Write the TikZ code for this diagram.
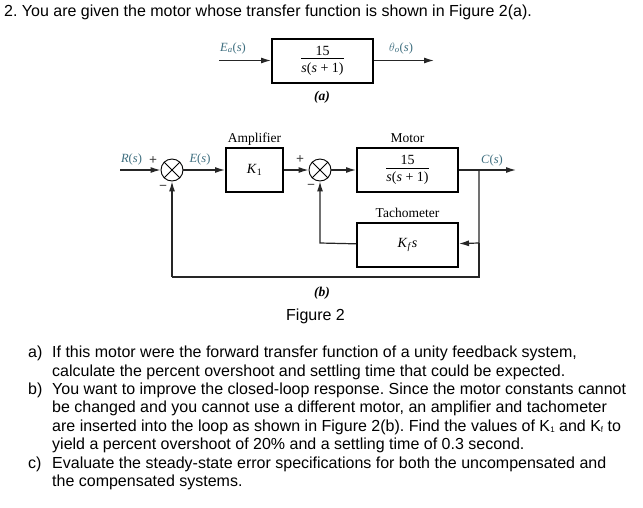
\documentclass[tikz,border=0pt]{standalone}
\usepackage{fontspec}
\setmainfont{Liberation Sans}
\newfontfamily\figfont{Liberation Serif}
\usetikzlibrary{arrows.meta,positioning}
\definecolor{labelteal}{HTML}{3F6F80}
\newcommand{\sig}[2]{\textit{#1}\textsubscript{\textit{#2}}(\textit{s})}
\newcommand{\motorfrac}{$\displaystyle{\raisebox{-4pt}[\height][0pt]{15}\above0.9pt\mbox{\textit{s}(\textit{s} + 1)}}$}
\newcommand{\itm}[1]{\makebox[24pt][l]{#1}}
\newcommand{\low}[1]{\raisebox{-1pt}{\fontsize{8}{8}\selectfont #1}}
\begin{document}
\begin{tikzpicture}[x=1pt,y=1pt,
    block/.style={rectangle,draw=black,line width=2pt,inner sep=0pt,font=\figfont\fontsize{14}{15}\selectfont},
    bigblock/.style={block,minimum width=101pt,minimum height=44pt},
    sum/.style={circle,draw=black,line width=0.9pt,inner sep=0pt,minimum size=22pt},
    wire/.style={line width=1.2pt,draw=black!85,-{Latex[length=10pt,width=6pt]}},
    line/.style={line width=1.2pt,draw=black!85},
    signal/.style={font=\figfont\fontsize{12.5}{14}\selectfont,text=labelteal,inner sep=0pt},
    caption/.style={font=\figfont\fontsize{13.5}{15}\selectfont,inner sep=0pt,text height=9pt,text depth=3pt},
    sign/.style={font=\figfont\bfseries\fontsize{14}{15}\selectfont,inner sep=0pt,text=black!75},
    textline/.style={anchor=base west,inner sep=0pt,font=\fontsize{16}{18}\selectfont\frenchspacing}
]
 \useasboundingbox (0,0) rectangle (643,-507);
 \fill[white] (0,0) rectangle (643,-507);

 \node[textline] (title) at (4,-16) {2. You are given the motor whose transfer function is shown in Figure 2(a).};

 % figure a
 \node[bigblock] (plant) at (322.5,-60.5) {\motorfrac};
 \coordinate[left=52pt of plant.west] (ea);
 \coordinate[right=60pt of plant.east] (theta);
 \draw[wire] (ea) -- (plant);
 \draw[wire] (plant) -- (theta);
 \node[signal] (ealabel) at (233,-48) {\sig{E}{a}};
 \node[signal] (thetalabel) at (401,-48) {\sig{$\theta$}{o}};
 \node[caption] (capa) at (322,-97) {\textbf{\textit{(a)}}};

 % figure b
 \node[sum] (sum1) at (172,-170) {};
 \node[block,minimum width=57pt,minimum height=44pt] (amp) at (254.5,-170) {\textit{K}\textsubscript{1}};
 \node[sum] (sum2) at (320,-170) {};
 \node[bigblock] (motor) at (407.5,-170) {\motorfrac};
 \node[bigblock] (tach) [below=29pt of motor] {\textit{K}\textsubscript{\textit{f}}\textit{s}};

 \foreach \s in {sum1,sum2} {
   \draw[line width=0.9pt] (\s.north west) -- (\s.south east);
   \draw[line width=0.9pt] (\s.north east) -- (\s.south west);
 }

 \coordinate (rs) at (120,-170);
 \coordinate (split) at (479,-170);
 \coordinate (cs) at (516,-170);
 \coordinate (tapt) at (479,-243);
 \coordinate (tapb) at (479,-277);
 \coordinate (backb) at (172,-277);
 \coordinate (tachb) at (320,-243);

 \draw[wire] (rs) -- (sum1);
 \draw[wire] (sum1) -- (amp);
 \draw[wire] (amp) -- (sum2);
 \draw[wire] (sum2) -- (motor);
 \draw[wire] (motor) -- (cs);
 \draw[wire] (split) -- (tapt) -- (tach);
 \draw[line] (tapt) -- (tapb) -- (backb);
 \draw[wire] (backb) -- (sum1);
 \draw[wire] (tach) -- (tachb) -- (sum2);

 \node[signal] (rlabel) at (131.5,-159) {\textit{R}(\textit{s})};
 \node[signal] (elabel) at (200,-159) {\textit{E}(\textit{s})};
 \node[signal] (clabel) at (492,-160) {\textit{C}(\textit{s})};
 \node[sign] (plus1) at (153,-161) {+};
 \node[sign] (minus1) at (163,-188) {\textminus};
 \node[sign] (plus2) at (300,-160) {+};
 \node[sign] (minus2) at (311,-187) {\textminus};
 \node[caption] (amplabel) [above=1.5pt of amp] {Amplifier};
 \node[caption] (motorlabel) [above=1.5pt of motor] {Motor};
 \node[caption] (tachlabel) [above=1.5pt of tach] {Tachometer};
 \node[caption] (capb) at (322,-293) {\textbf{\textit{(b)}}};
 \node[textline] (figcap) at (286,-320) {Figure 2};

 % questions
 \node[textline] (l1) at (28,-357.5) {\itm{a)}If this motor were the forward transfer function of a unity feedback system,};
 \node[textline] (l2) at (52,-376) {calculate the percent overshoot and settling time that could be expected.};
 \node[textline] (l3) at (28,-394.5) {\itm{b)}You want to improve the closed-loop response. Since the motor constants cannot};
 \node[textline] (l4) at (52,-412.5) {be changed and you cannot use a different motor, an amplifier and tachometer};
 \node[textline] (l5) at (52,-431) {are inserted into the loop as shown in Figure 2(b). Find the values of K\low{1} and K\low{f} to};
 \node[textline] (l6) at (52,-449) {yield a percent overshoot of 20\% and a settling time of 0.3 second.};
 \node[textline] (l7) at (28,-468) {\itm{c)}Evaluate the steady-state error specifications for both the uncompensated and};
 \node[textline] (l8) at (52,-486) {the compensated systems.};
\end{tikzpicture}
\end{document}
